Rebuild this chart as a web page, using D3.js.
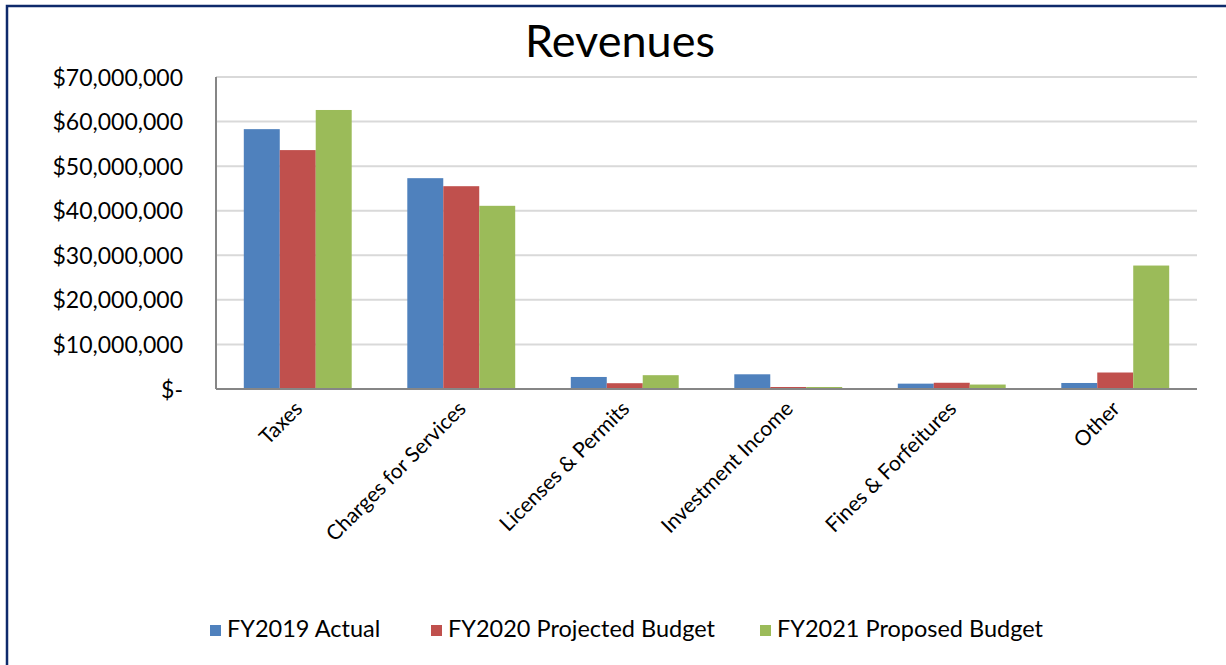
<!DOCTYPE html>
<html>
<head>
<meta charset="utf-8">
<script src="https://cdn.jsdelivr.net/npm/d3@7"></script>
<style>
  body { margin: 0; background: #fff; }
  svg { display: block; }
</style>
</head>
<body>
<svg id="chart0"></svg>
<script>
// data
var categories = ['Taxes', 'Charges for Services', 'Licenses & Permits',
                  'Investment Income', 'Fines & Forfeitures', 'Other'];
var series = ['FY2019 Actual', 'FY2020 Projected Budget', 'FY2021 Proposed Budget'];
var fy2019 = [58300000, 47300000, 2700000, 3300000, 1200000, 1350000];
var fy2020 = [53600000, 45500000, 1300000, 450000, 1400000, 3700000];
var fy2021 = [62600000, 41100000, 3100000, 450000, 1000000, 27700000];
var y_ticks = [0, 10000000, 20000000, 30000000, 40000000, 50000000, 60000000, 70000000];
var colors = ['#4F81BD', '#C0504D', '#9BBB59'];

var width = 1226, height = 665;
var margin = {'top': 77, 'left': 216, 'right': 29, 'bottom': 276};
var plot_w = width - margin.left - margin.right;
var plot_h = height - margin.top - margin.bottom;

var svg = d3.select('#chart0')
  .attr('width', width)
  .attr('height', height);

// outer frame (only top and left edge visible in the picture)
svg.append('rect')
  .attr('x', 7).attr('y', 6)
  .attr('width', width + 20).attr('height', height + 20)
  .attr('fill', 'none')
  .attr('stroke', '#0E2A6B')
  .attr('stroke-width', 2.5);

svg.append('text')
  .attr('x', 620).attr('y', 57)
  .attr('text-anchor', 'middle')
  .attr('font-family', 'Lato, sans-serif')
  .attr('font-size', '45px')
  .attr('fill', '#000')
  .text('Revenues');

var chart = svg.append('g')
  .attr('transform', 'translate(' + margin.left + ',' + margin.top + ')');

var x_conv = d3.scaleBand()
  .domain(categories)
  .range([0, plot_w])
  .paddingInner(0.34)
  .paddingOuter(0.17);

var x_inner = d3.scaleBand()
  .domain(series)
  .range([0, x_conv.bandwidth()]);

var y_conv = d3.scaleLinear()
  .domain([0, 70000000])
  .range([plot_h, 0]);

// gridlines
chart.selectAll('line.grid')
  .data(y_ticks.slice(1)).enter()
  .append('line')
  .attr('class', 'grid')
  .attr('x1', 0).attr('x2', plot_w)
  .attr('y1', function(d) { return y_conv(d); })
  .attr('y2', function(d) { return y_conv(d); })
  .attr('stroke', '#D9D9D9')
  .attr('stroke-width', 2);

var table = categories.map(function(c, i) {
  return {cat: c, vals: [fy2019[i], fy2020[i], fy2021[i]]};
});

var groups = chart.selectAll('g.cat')
  .data(table).enter()
  .append('g')
  .attr('transform', function(d) { return 'translate(' + x_conv(d.cat) + ',0)'; });

groups.selectAll('rect')
  .data(function(d) { return d.vals.map(function(v, j) { return {s: series[j], v: v, j: j}; }); })
  .enter()
  .append('rect')
  .attr('x', function(d) { return x_inner(d.s); })
  .attr('y', function(d) { return y_conv(d.v); })
  .attr('width', x_inner.bandwidth())
  .attr('height', function(d) { return plot_h - y_conv(d.v); })
  .attr('fill', function(d) { return colors[d.j]; });

// y axis
var fmt = d3.format(',');
var y_axis = chart.append('g')
  .call(d3.axisLeft(y_conv).tickValues(y_ticks).tickSize(0).tickPadding(33)
    .tickFormat(function(d) { return d === 0 ? '$-' : '$' + fmt(d); }));
y_axis.select('.domain').remove();
y_axis.selectAll('text')
  .attr('font-family', 'Lato, sans-serif')
  .attr('font-size', '23px')
  .attr('fill', '#000')
  .attr('dy', '0.35em');

chart.append('line')
  .attr('x1', 0).attr('x2', 0).attr('y1', 0).attr('y2', plot_h)
  .attr('stroke', '#868686').attr('stroke-width', 2);
chart.append('line')
  .attr('x1', 0).attr('x2', plot_w).attr('y1', plot_h).attr('y2', plot_h)
  .attr('stroke', '#868686').attr('stroke-width', 2);

// x labels, rotated
chart.selectAll('text.xlab')
  .data(categories).enter()
  .append('text')
  .attr('class', 'xlab')
  .attr('transform', function(d) {
    return 'translate(' + (x_conv(d) + x_conv.bandwidth() / 2 + 6) + ',' + (plot_h + 21) + ') rotate(-45)';
  })
  .attr('text-anchor', 'end')
  .attr('font-family', 'Lato, sans-serif')
  .attr('font-size', '21px')
  .attr('fill', '#000')
  .text(function(d) { return d; });

// legend
var legend_x = [210, 431, 760];
var legend = svg.selectAll('g.leg')
  .data(series).enter()
  .append('g')
  .attr('transform', function(d, i) { return 'translate(' + legend_x[i] + ',625)'; });
legend.append('rect')
  .attr('width', 11).attr('height', 11)
  .attr('fill', function(d, i) { return colors[i]; });
legend.append('text')
  .attr('x', 17).attr('y', 12)
  .attr('font-family', 'Lato, sans-serif')
  .attr('font-size', '23.5px')
  .attr('fill', '#000')
  .text(function(d) { return d; });
</script>
</body>
</html>
